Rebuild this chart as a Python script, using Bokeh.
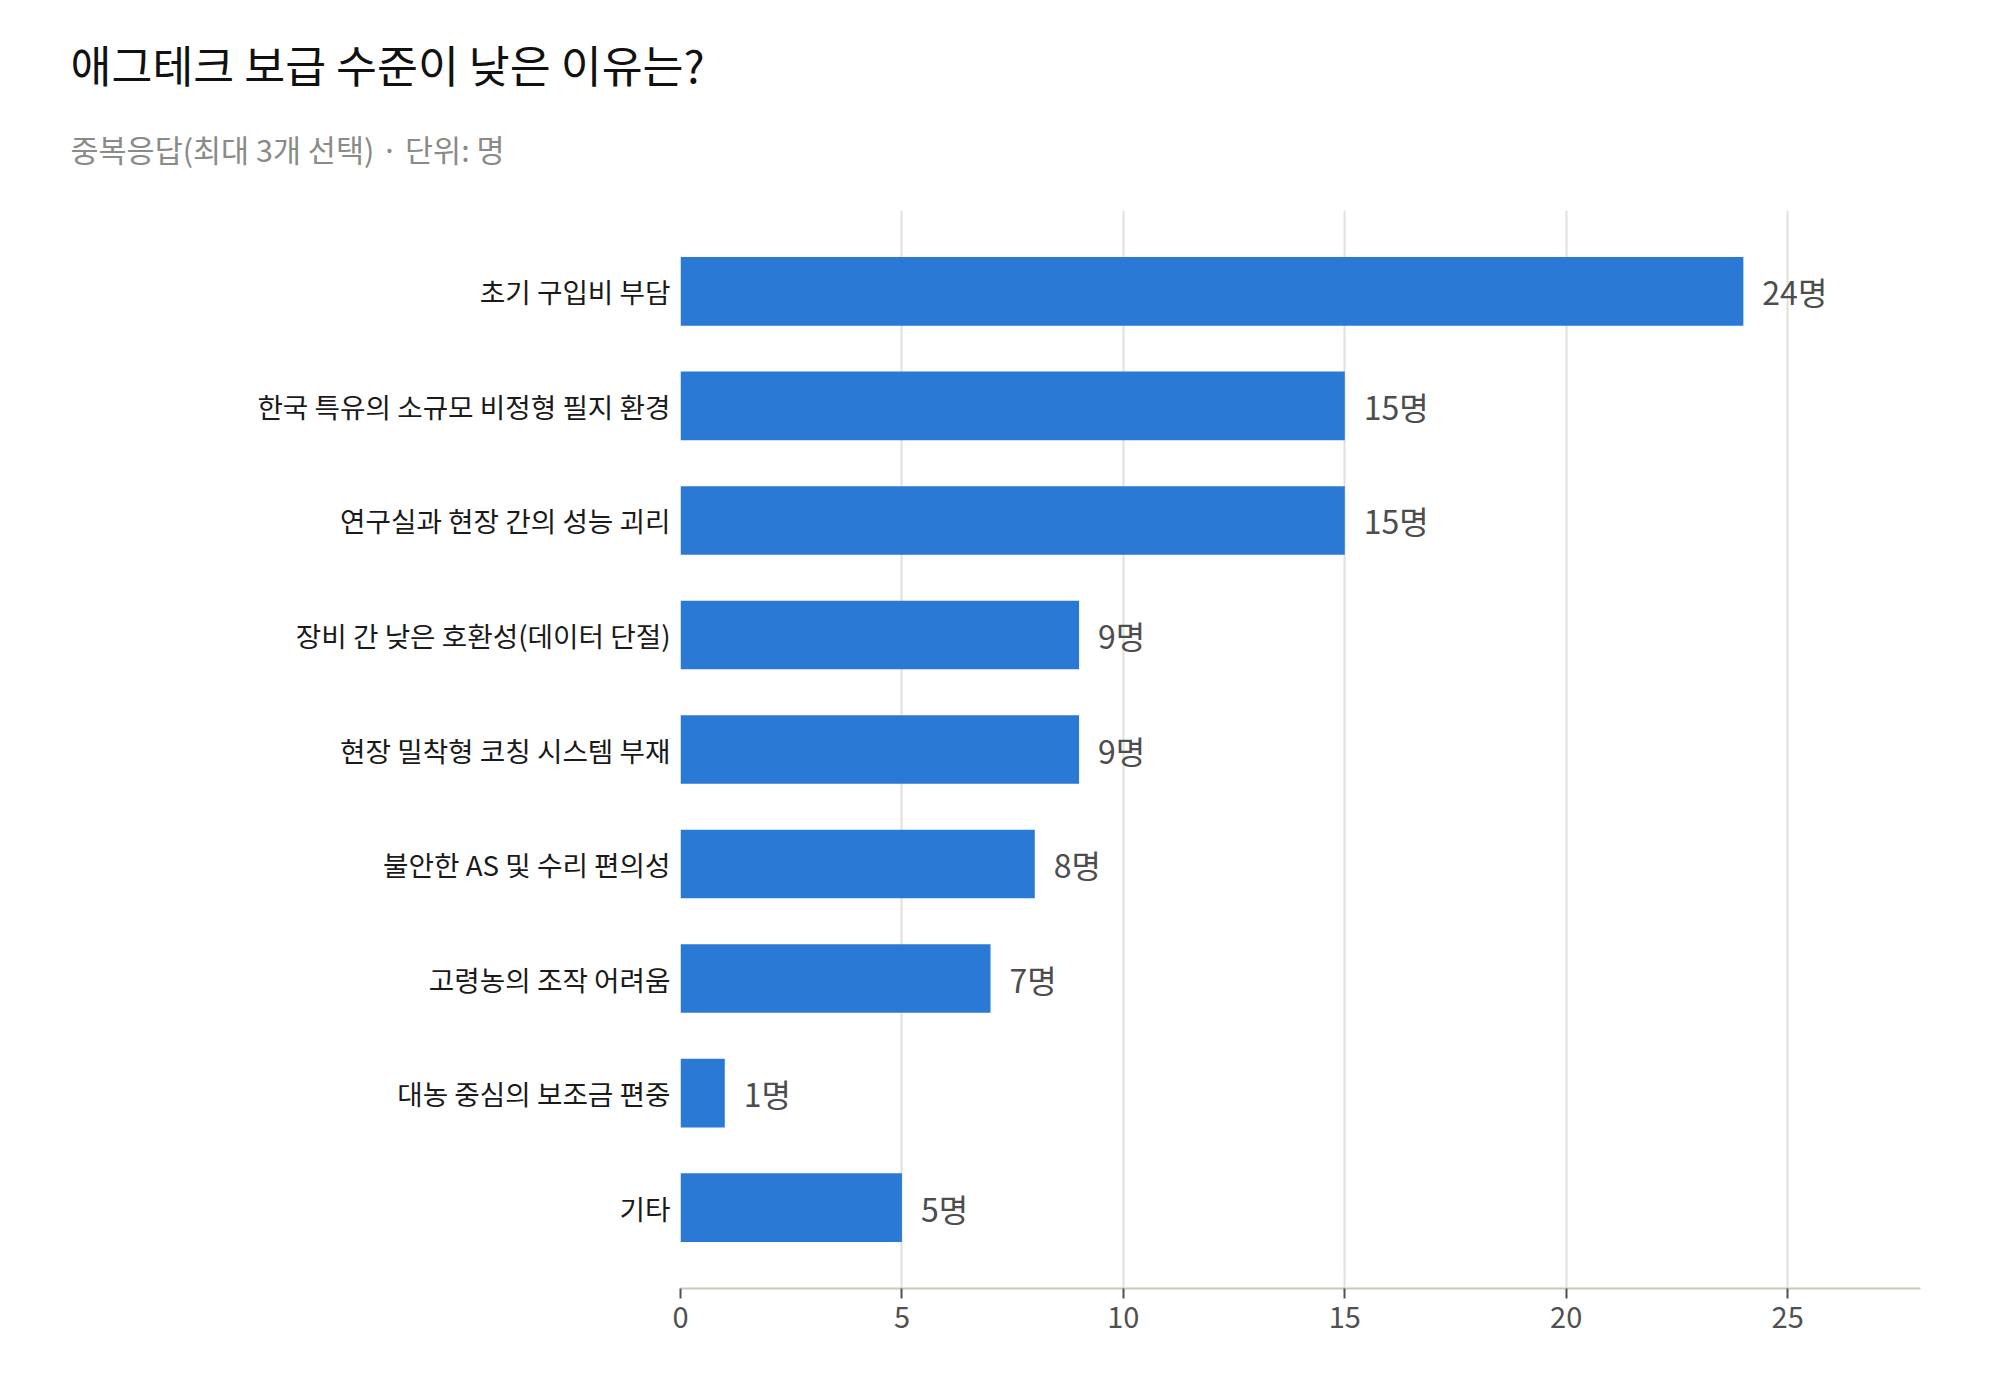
from bokeh.plotting import figure
from bokeh.models import ColumnDataSource, FactorRange, Range1d, FixedTicker, Title
from bokeh.core.properties import value
from bokeh.embed import file_html
from bokeh.resources import INLINE

# data
reasons = [
    "초기 구입비 부담",
    "한국 특유의 소규모 비정형 필지 환경",
    "연구실과 현장 간의 성능 괴리",
    "장비 간 낮은 호환성(데이터 단절)",
    "현장 밀착형 코칭 시스템 부재",
    "불안한 AS 및 수리 편의성",
    "고령농의 조작 어려움",
    "대농 중심의 보조금 편중",
    "기타",
]
counts = [24, 15, 15, 9, 9, 8, 7, 1, 5]
x_ticks = [0, 5, 10, 15, 20, 25]

FONT = "Noto Sans CJK KR"

source = ColumnDataSource(dict(
    reason=reasons,
    count=counts,
    label=[f"{c}명" for c in counts],
))

p = figure(
    width=1984,
    height=1380,
    y_range=FactorRange(factors=list(reversed(reasons)), range_padding=0.046),
    x_range=Range1d(0, 28),
    output_backend="svg",
    toolbar_location=None,
    tools="",
    min_border_left=680,
    min_border_right=64,
    min_border_top=210,
    min_border_bottom=92,
)
p.outline_line_color = None
p.background_fill_color = "white"

# headings stack upward from the plot: spacer, subtitle, title
p.add_layout(Title(text=" ", text_font_size="10px", standoff=10), "above")
p.add_layout(Title(text="중복응답(최대 3개 선택) · 단위: 명", text_font=FONT,
                   text_font_size="30.5px", text_font_style="normal",
                   text_color="#8a8a86", align="left", offset=-610,
                   standoff=34), "above")
p.add_layout(Title(text="애그테크 보급 수준이 낮은 이유는?", text_font=FONT,
                   text_font_size="44.5px", text_font_style="normal",
                   text_color="#111111", align="left", offset=-610,
                   standoff=24), "above")

# bars
p.hbar(y="reason", right="count", left=0, height=0.6, source=source,
       fill_color="#2979d5", line_color=None)

# value labels
p.text(x="count", y="reason", text="label", source=source,
       x_offset=19, text_baseline="middle", text_align="left",
       text_font=value(FONT), text_font_size="32px", text_color="#4d4d4d")

# x axis
p.xaxis.ticker = FixedTicker(ticks=x_ticks)
p.xaxis.axis_line_color = "#c8c8bc"
p.xaxis.axis_line_width = 2
p.xaxis.major_tick_line_color = "#505050"
p.xaxis.major_tick_line_width = 2
p.xaxis.major_tick_in = 0
p.xaxis.major_tick_out = 10
p.xaxis.minor_tick_line_color = None
p.xaxis.major_label_standoff = 8
p.xaxis.major_label_text_font = FONT
p.xaxis.major_label_text_font_size = "29px"
p.xaxis.major_label_text_color = "#505050"

# y axis
p.yaxis.axis_line_color = None
p.yaxis.major_tick_line_color = None
p.yaxis.major_tick_in = 0
p.yaxis.major_tick_out = 0
p.yaxis.major_label_standoff = 10
p.yaxis.major_label_text_font = FONT
p.yaxis.major_label_text_font_size = "27.7px"
p.yaxis.major_label_text_color = "#1a1a1a"

# grid
p.xgrid.grid_line_color = "#e0e0da"
p.xgrid.grid_line_width = 2
p.ygrid.grid_line_color = None

open("out.html", "w").write(file_html(p, INLINE))
